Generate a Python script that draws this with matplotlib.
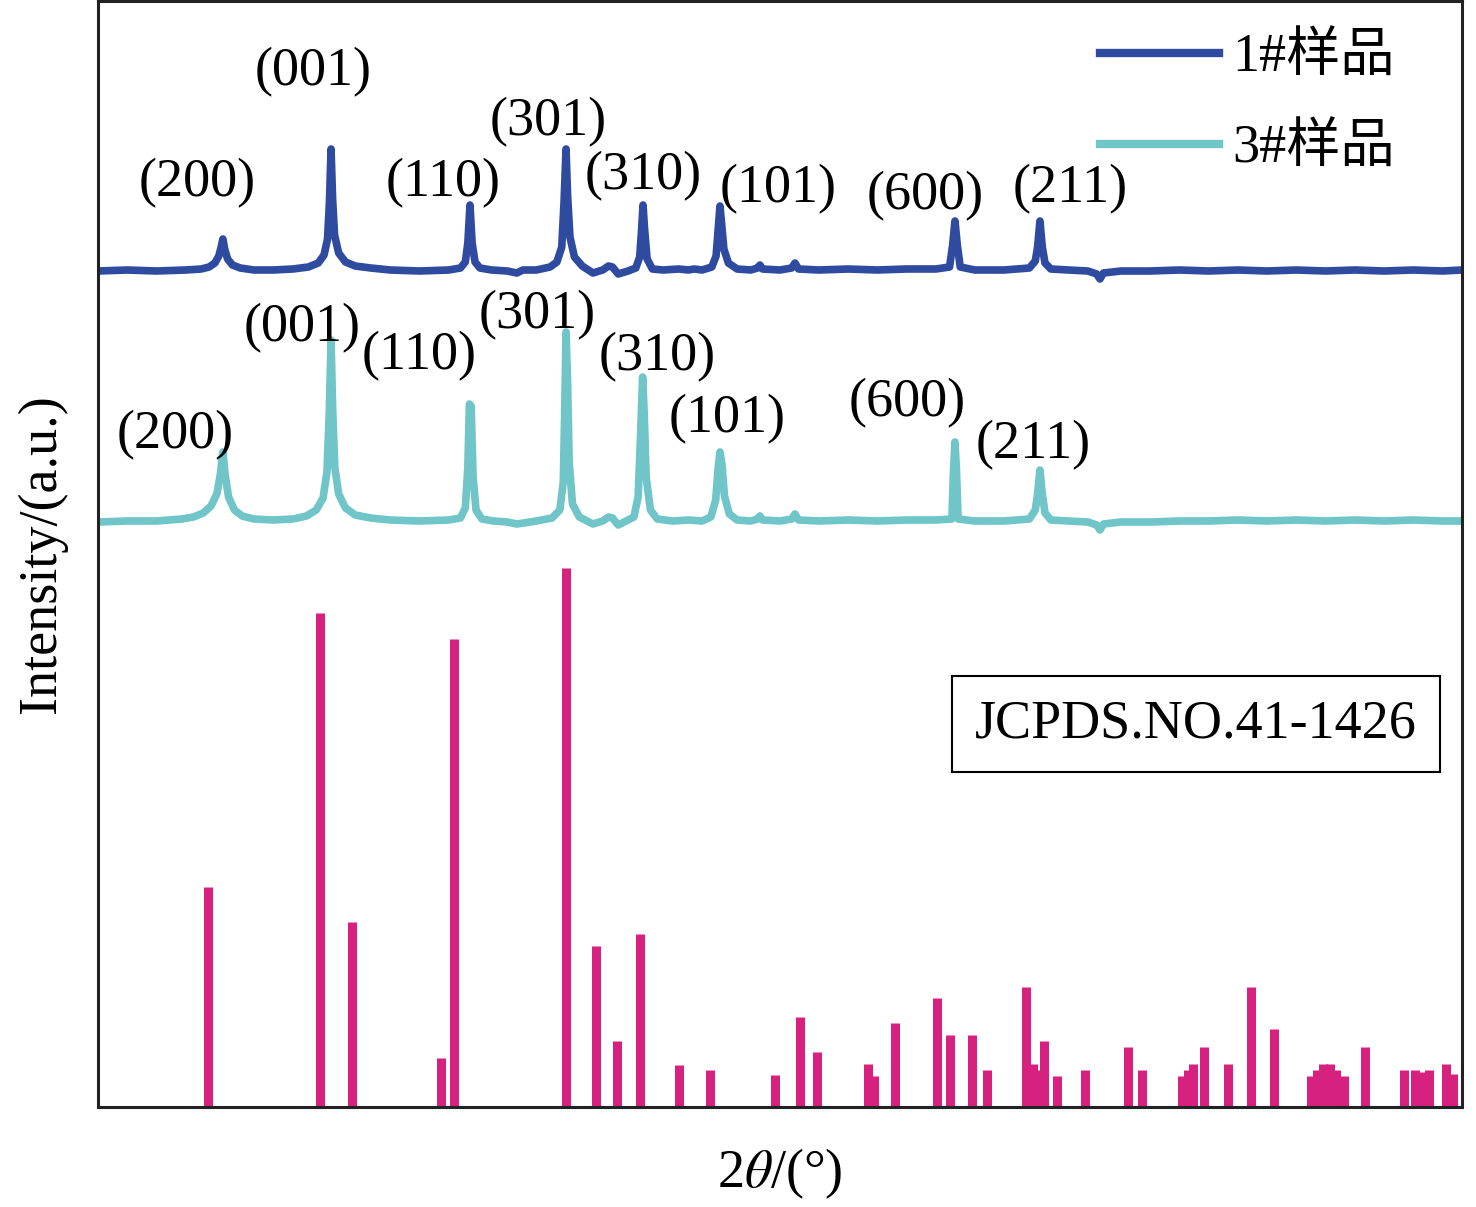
import numpy as np
import matplotlib
matplotlib.use("Agg")
from matplotlib import pyplot as plt
from matplotlib.lines import Line2D

plt.rcParams['font.family'] = ['Liberation Serif', 'Noto Sans CJK SC']
plt.rcParams['mathtext.fontset'] = 'stix'

# sample 1 trace: (2theta, intensity above its baseline)
sample1 = [
    (10.0, 0), (11.5, 1), (13.0, 0), (14.5, 1), (15.3, 2), (15.7, 4), (16.0, 8), (16.2, 15),
    (16.32, 24), (16.41, 32), (16.5, 22), (16.65, 12), (16.9, 6), (17.3, 3), (18.0, 1), (19.0, 1), (20.0, 2),
    (20.8, 4), (21.3, 8), (21.6, 16), (21.78, 32), (21.88, 70), (21.96, 122), (22.04, 72), (22.14, 36),
    (22.35, 18), (22.7, 9), (23.2, 5), (24.0, 3), (25.0, 1), (26.5, 0), (28.0, 1),
    (28.6, 3), (28.85, 9), (28.98, 28), (29.09, 66), (29.2, 28), (29.35, 9), (29.6, 3), (30.2, 1),
    (31.0, 0), (31.5, -2), (31.8, 1), (32.5, 1),
    (33.2, 4), (33.55, 9), (33.8, 24), (33.92, 70), (34.02, 122), (34.1, 75), (34.22, 34), (34.45, 14),
    (34.85, 5), (35.4, -2), (35.9, 1), (36.2, 5), (36.4, 4), (36.7, -3), (37.2, 0),
    (37.6, 3), (37.8, 14), (37.9, 42), (37.97, 66), (38.05, 42), (38.18, 12), (38.45, 2), (39.0, 1),
    (39.8, 2), (40.3, 1), (40.6, 2), (41.0, 1),
    (41.5, 4), (41.72, 15), (41.84, 45), (41.92, 65), (42.0, 48), (42.12, 22), (42.35, 8), (42.8, 2),
    (43.5, 1), (43.85, 3), (43.97, 6), (44.1, 2), (45.0, 1), (45.6, 3), (45.77, 8), (45.95, 2),
    (47.0, 1), (48.5, 2), (50.0, 1), (51.5, 2), (53.0, 2), (53.7, 4), (53.86, 26), (53.98, 50),
    (54.1, 26), (54.25, 4), (55.0, 1), (56.5, 1),
    (57.8, 3), (58.1, 10), (58.22, 24), (58.34, 50), (58.46, 24), (58.6, 8), (58.9, 2), (59.8, 1),
    (60.8, 0), (61.25, -3), (61.42, -8), (61.6, -2), (62.5, 0), (64.0, 0), (65.5, 1), (67.0, 0),
    (68.5, 1), (70.0, 0), (71.5, 1), (73.0, 0), (74.5, 1), (76.0, 0), (77.5, 1), (79.0, 0), (80.0, 1),
]

# sample 3 trace
sample3 = [
    (10.0, 0), (11.5, 1), (13.0, 1), (14.3, 3), (14.9, 5), (15.4, 9), (15.8, 16), (16.1, 28),
    (16.28, 48), (16.41, 70), (16.52, 48), (16.7, 25), (17.0, 12), (17.4, 6), (18.0, 3), (19.0, 2), (20.0, 3),
    (20.7, 6), (21.2, 12), (21.55, 24), (21.75, 50), (21.87, 110), (21.96, 182), (22.04, 115), (22.15, 55),
    (22.35, 28), (22.7, 14), (23.2, 7), (24.0, 4), (25.0, 2), (26.5, 1), (28.0, 2),
    (28.6, 4), (28.85, 14), (28.98, 55), (29.06, 118), (29.15, 116), (29.25, 45), (29.4, 12), (29.7, 3),
    (30.3, 1), (31.0, 0), (31.5, -2), (32.5, 1),
    (33.3, 4), (33.7, 12), (33.88, 40), (33.96, 120), (34.02, 190), (34.1, 140), (34.18, 60), (34.35, 18),
    (34.7, 5), (35.4, -2), (35.9, 1), (36.2, 5), (36.4, 4), (36.7, -3), (37.1, 1),
    (37.5, 5), (37.72, 25), (37.85, 90), (37.95, 145), (38.03, 110), (38.13, 45), (38.35, 12), (38.7, 3),
    (39.5, 1), (40.3, 2), (41.0, 1),
    (41.45, 5), (41.7, 22), (41.83, 55), (41.92, 70), (42.02, 58), (42.15, 26), (42.4, 8), (42.8, 2),
    (43.5, 1), (43.85, 3), (43.97, 6), (44.1, 2), (45.0, 1), (45.6, 3), (45.77, 8), (45.95, 2),
    (47.0, 1), (48.5, 2), (50.0, 1), (51.5, 2), (53.0, 2), (53.82, 3), (53.9, 50), (53.98, 80),
    (54.06, 50), (54.14, 3), (55.0, 1), (56.5, 1),
    (57.8, 3), (58.1, 12), (58.22, 28), (58.34, 52), (58.46, 28), (58.6, 9), (58.9, 2), (59.8, 1),
    (60.8, 0), (61.25, -3), (61.42, -8), (61.6, -2), (62.5, 0), (64.0, 0), (65.5, 1), (67.0, 1),
    (68.5, 2), (70.0, 1), (71.5, 2), (73.0, 1), (74.5, 2), (76.0, 1), (77.5, 2), (79.0, 1), (80.0, 1),
]

# JCPDS 41-1426 reference lines (2theta, relative intensity %)
ref_2theta = [15.65, 21.39, 23.03, 27.60, 28.27, 34.02, 35.56, 36.63, 37.81, 39.82,
              41.41, 44.74, 46.03, 46.90, 49.52, 49.82, 50.88, 53.06, 53.72, 54.83,
              55.60, 57.62, 57.98, 58.19, 58.55, 59.21, 60.65, 62.86, 63.58, 65.63,
              65.94, 66.19, 66.76, 67.99, 69.17, 70.35, 72.25, 72.56, 72.87, 73.22,
              73.53, 73.94, 75.02, 77.02, 77.59, 78.00, 78.31, 79.18, 79.54]
ref_int = [40.8, 91.6, 34.3, 9.1, 86.8, 100.0, 29.9, 12.2, 32.1, 7.8,
           6.9, 5.9, 16.7, 10.2, 8.0, 5.8, 15.6, 20.2, 13.4, 13.4,
           6.9, 22.3, 8.0, 6.9, 12.2, 5.8, 6.9, 11.1, 6.9, 5.8,
           6.9, 8.0, 11.1, 8.0, 22.3, 14.5, 5.8, 6.9, 8.0, 8.0,
           6.9, 5.8, 11.1, 6.9, 6.9, 6.5, 6.9, 8.0, 6.1]

hkl = ['(200)', '(001)', '(110)', '(301)', '(310)', '(101)', '(600)', '(211)']

# label positions (2theta, y) for each trace
lab1_x = [15.08, 21.03, 27.70, 33.09, 37.97, 44.90, 52.44, 59.88]
lab1_y = [924, 1035, 924, 985, 931, 918, 911, 918]
lab3_x = [13.95, 20.47, 26.47, 32.53, 38.69, 42.28, 51.52, 57.98]
lab3_y = [672, 779, 751, 792, 750, 688, 704, 662]

c1 = '#2f4b9f'
c3 = '#70c5c8'
cref = '#d6217f'
fs = 39

fig = plt.figure(figsize=(14.76, 12.07), dpi=100)
ax = fig.add_axes([98/1476, 1 - 1107/1207, 1364/1476, 1106/1207])

s1 = np.array(sample1).T
s3 = np.array(sample3).T
ax.plot(s1[0], s1[1] + 836, color=c1, lw=5.5, solid_joinstyle='round')
ax.plot(s3[0], s3[1] + 585, color=c3, lw=5.5, solid_joinstyle='round')
ax.vlines(ref_2theta, 0, np.array(ref_int) * 5.39, color=cref, lw=6.5)

for t, x, y in zip(hkl, lab1_x, lab1_y):
    ax.text(x, y, t, fontsize=fs, ha='center', va='center')
for t, x, y in zip(hkl, lab3_x, lab3_y):
    ax.text(x, y, t, fontsize=fs, ha='center', va='center')

ax.text(66.35, 383, 'JCPDS.NO.41-1426', fontsize=fs, ha='center', va='center',
        bbox=dict(boxstyle='square,pad=0.42', fc='white', ec='black', lw=1.5))

handles = [Line2D([], [], color=c1, lw=6), Line2D([], [], color=c3, lw=6)]
ax.legend(handles, ['1#样品', '3#样品'], loc='upper right', bbox_to_anchor=(0.951, 0.971),
          frameon=False, fontsize=fs, handlelength=2.2, handletextpad=0.25,
          labelspacing=0.76, borderpad=0, borderaxespad=0)

ax.set_xlim(10, 80)
ax.set_ylim(0, 1106)
ax.set_xticks([])
ax.set_yticks([])
for s in ax.spines.values():
    s.set_linewidth(2.2)
    s.set_color('#222222')

ax.set_xlabel(r'2$\theta$/(°)', fontsize=fs)
ax.set_ylabel('Intensity/(a.u.)', fontsize=fs)
ax.xaxis.set_label_coords(0.5, -0.036)
ax.yaxis.set_label_coords(-0.023, 0.5)

fig.savefig('out.png', dpi=100)
